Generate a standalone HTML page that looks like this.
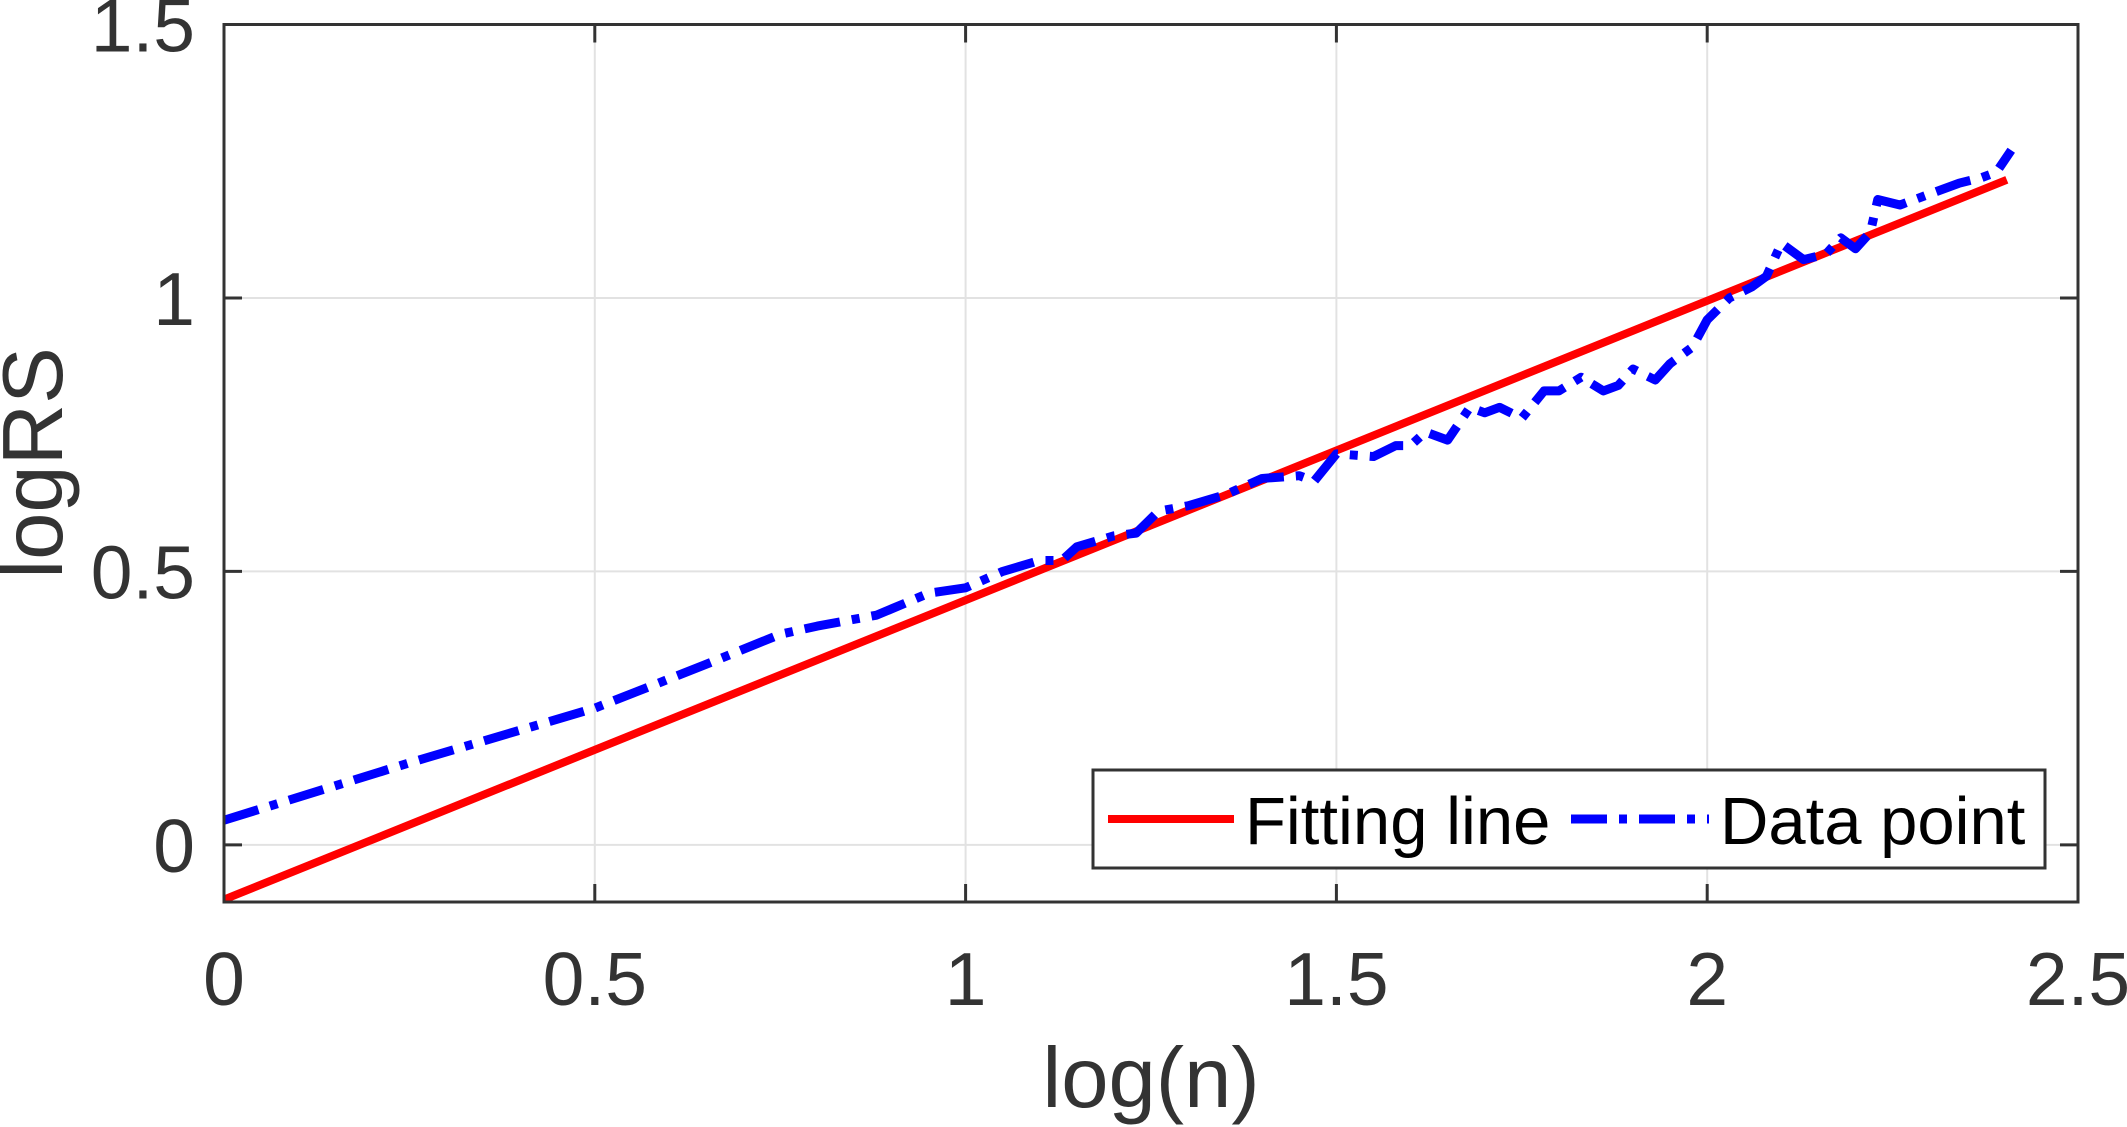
<!DOCTYPE html>
<html><head><meta charset="utf-8"><style>
html,body{margin:0;padding:0;background:#fff;}
svg{display:block;font-family:"Liberation Sans",sans-serif;}
</style></head><body>
<svg id="chart" width="2127" height="1127" viewBox="0 0 2127 1127">
<g id="grid"></g>
<g id="series"></g>
<rect x="224" y="24.5" width="1854" height="877.5" fill="none" stroke="#333" stroke-width="3"/>
<g id="ticks"></g>
<text x="1151" y="1107" font-size="85" fill="#333" text-anchor="middle">log(n)</text>
<text transform="translate(62,463) rotate(-90)" font-size="85" fill="#333" text-anchor="middle">logRS</text>
<g>
<rect x="1093" y="770" width="952" height="98" fill="#fff" stroke="#333" stroke-width="3"/>
<line x1="1108" y1="819" x2="1234" y2="819" stroke="#f00" stroke-width="8"/>
<text x="1245" y="844" font-size="67" fill="#000">Fitting line</text>
<line x1="1571" y1="819" x2="1709" y2="819" stroke="#00f" stroke-width="9" stroke-dasharray="36 12 8 12"/>
<text x="1720" y="844" font-size="67" fill="#000">Data point</text>
</g>
</svg>
<script>
const xTicks=[0,0.5,1,1.5,2,2.5];
const xTickLabels=["0","0.5","1","1.5","2","2.5"];
const yTicks=[0,0.5,1,1.5];
const yTickLabels=["0","0.5","1","1.5"];
const fitX=[0,2.404];
const fitY=[-0.1,1.216];
const dataX=[0,0.25,0.5,0.65,0.75,0.8,0.88,0.95,1.0,1.05,1.1,1.13,1.15,1.2,1.23,1.26,1.3,1.35,1.4,1.45,1.47,1.5,1.55,1.58,1.6,1.62,1.65,1.68,1.7,1.72,1.75,1.78,1.8,1.83,1.86,1.88,1.9,1.93,1.95,1.98,2.0,2.03,2.06,2.08,2.1,2.13,2.16,2.18,2.2,2.22,2.23,2.26,2.3,2.34,2.37,2.39,2.41];
const dataY=[0.045,0.15,0.25,0.33,0.385,0.4,0.42,0.46,0.47,0.5,0.52,0.52,0.545,0.565,0.57,0.61,0.62,0.64,0.67,0.675,0.665,0.715,0.71,0.73,0.73,0.755,0.74,0.8,0.79,0.8,0.78,0.83,0.83,0.855,0.83,0.84,0.87,0.85,0.88,0.91,0.96,1.0,1.02,1.04,1.1,1.07,1.08,1.11,1.09,1.12,1.18,1.17,1.19,1.21,1.22,1.23,1.27];
const X0=224,X1=2078,XMIN=0,XMAX=2.5;
const YT=24.5,YB=902,YMIN=-0.1045,YMAX=1.5;
function sx(v){return X0+(v-XMIN)/(XMAX-XMIN)*(X1-X0);}
function sy(v){return YB-(v-YMIN)/(YMAX-YMIN)*(YB-YT);}
const NS="http://www.w3.org/2000/svg";
function mk(tag,attrs,parent){const e=document.createElementNS(NS,tag);for(const k in attrs)e.setAttribute(k,attrs[k]);parent.appendChild(e);return e;}
const grid=document.getElementById('grid'),ticks=document.getElementById('ticks'),series=document.getElementById('series');
xTicks.forEach((v,i)=>{
  const x=sx(v);
  if(i>0&&i<xTicks.length-1){const g=mk('line',{x1:x,y1:YT,x2:x,y2:YB,stroke:'#e2e2e2','stroke-width':2},grid);
  
  }
  const t1=mk('line',{x1:x,y1:YB,x2:x,y2:YB-18,stroke:'#333','stroke-width':3},ticks);
  
  
  const t2=mk('line',{x1:x,y1:YT,x2:x,y2:YT+18,stroke:'#333','stroke-width':3},ticks);
  
  
  const l=mk('text',{x:x,y:1005,'font-size':75,fill:'#333','text-anchor':'middle'},ticks);
  l.textContent=xTickLabels[i];
  
  
});
yTicks.forEach((v,i)=>{
  const y=sy(v);
  if(v<1.5){const g=mk('line',{x1:X0,y1:y,x2:X1,y2:y,stroke:'#e2e2e2','stroke-width':2},grid);
  
  }
  const t1=mk('line',{x1:X0,y1:y,x2:X0+18,y2:y,stroke:'#333','stroke-width':3},ticks);
  
  
  const t2=mk('line',{x1:X1,y1:y,x2:X1-18,y2:y,stroke:'#333','stroke-width':3},ticks);
  
  
  const l=mk('text',{x:195,y:y+27,'font-size':75,fill:'#333','text-anchor':'end'},ticks);
  l.textContent=yTickLabels[i];
  
  
});
const fit=mk('polyline',{points:fitX.map((v,i)=>sx(v)+','+sy(fitY[i])).join(' '),fill:'none',stroke:'#f00','stroke-width':8},series);


const dp=mk('polyline',{points:dataX.map((v,i)=>sx(v)+','+sy(dataY[i])).join(' '),fill:'none',stroke:'#00f','stroke-width':9,'stroke-dasharray':'36 12 8 12','stroke-linejoin':'round'},series);


</script>
</body></html>
